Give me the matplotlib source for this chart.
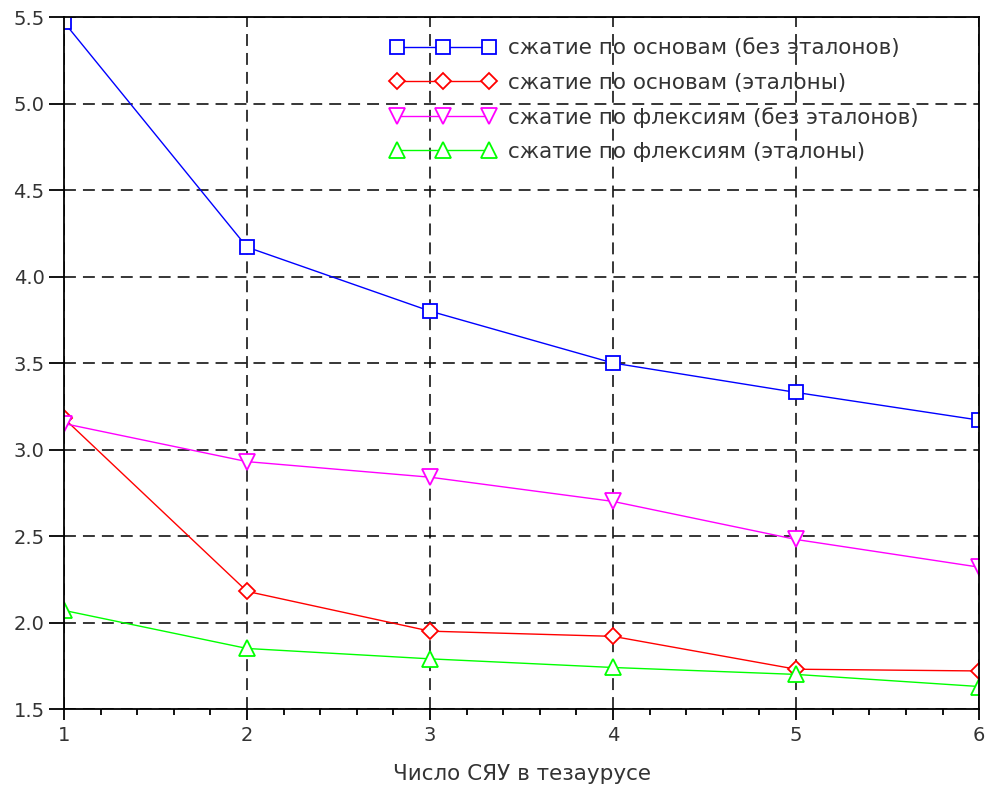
import matplotlib
matplotlib.use('Agg')
import matplotlib.pyplot as plt
from matplotlib.ticker import MultipleLocator

plt.rcParams['font.family'] = ['DejaVu Sans']

x = [1, 2, 3, 4, 5, 6]
osn_bez = [5.47, 4.17, 3.80, 3.50, 3.33, 3.17]
osn_et = [3.18, 2.18, 1.95, 1.92, 1.73, 1.72]
flex_bez = [3.15, 2.93, 2.84, 2.70, 2.48, 2.32]
flex_et = [2.07, 1.85, 1.79, 1.74, 1.70, 1.63]
labels = ['сжатие по основам (без эталонов)',
          'сжатие по основам (эталоны)',
          'сжатие по флексиям (без эталонов)',
          'сжатие по флексиям (эталоны)']

fig = plt.figure(figsize=(9.88, 7.85), dpi=100)
ax = fig.add_axes([0.0648, 0.0968, 0.9262, 0.8815])

ax.plot(x, osn_bez, color='#0000ff', lw=1, marker='s', ms=10, mfc='white',
        mec='#0000ff', mew=1.3, label=labels[0])
ax.plot(x, osn_et, color='#ff0000', lw=1, marker='D', ms=8.5, mfc='white',
        mec='#ff0000', mew=1.3, label=labels[1])
ax.plot(x, flex_bez, color='#ff00ff', lw=1, marker='v', ms=12, mfc='white',
        mec='#ff00ff', mew=1.3, label=labels[2])
ax.plot(x, flex_et, color='#00ff00', lw=1, marker='^', ms=12, mfc='white',
        mec='#00ff00', mew=1.3, label=labels[3])

ax.set_xlim(1, 6)
ax.set_ylim(1.5, 5.5)
ax.xaxis.set_major_locator(MultipleLocator(1))
ax.xaxis.set_minor_locator(MultipleLocator(0.2))
ax.yaxis.set_major_locator(MultipleLocator(0.5))
ax.yaxis.set_major_formatter(plt.FormatStrFormatter('%.1f'))
ax.grid(True, which='major', color='black', ls=(0, (7.8, 4.6)), lw=1.1)
ax.set_axisbelow(True)
ax.tick_params(axis='y', which='major', direction='out', length=11,
               width=1.3, labelsize=14, labelcolor='#333333', pad=3)
ax.tick_params(axis='x', which='major', direction='out', length=8,
               width=1.3, labelsize=14, labelcolor='#333333', pad=4)
ax.tick_params(axis='x', which='minor', direction='out', length=4.5, width=1.3)
for s in ax.spines.values():
    s.set_linewidth(1.3)

ax.set_xlabel('Число СЯУ в тезаурусе', fontsize=15.5, color='#333333', labelpad=14)

leg = ax.legend(loc='upper left', bbox_to_anchor=(0.357, 0.969), frameon=False,
                numpoints=3, handlelength=4.88, fontsize=15.5, labelspacing=0.66,
                handletextpad=0.58, borderpad=0, borderaxespad=0)
for t in leg.get_texts():
    t.set_color('#333333')

fig.savefig('out.png', dpi=100)
